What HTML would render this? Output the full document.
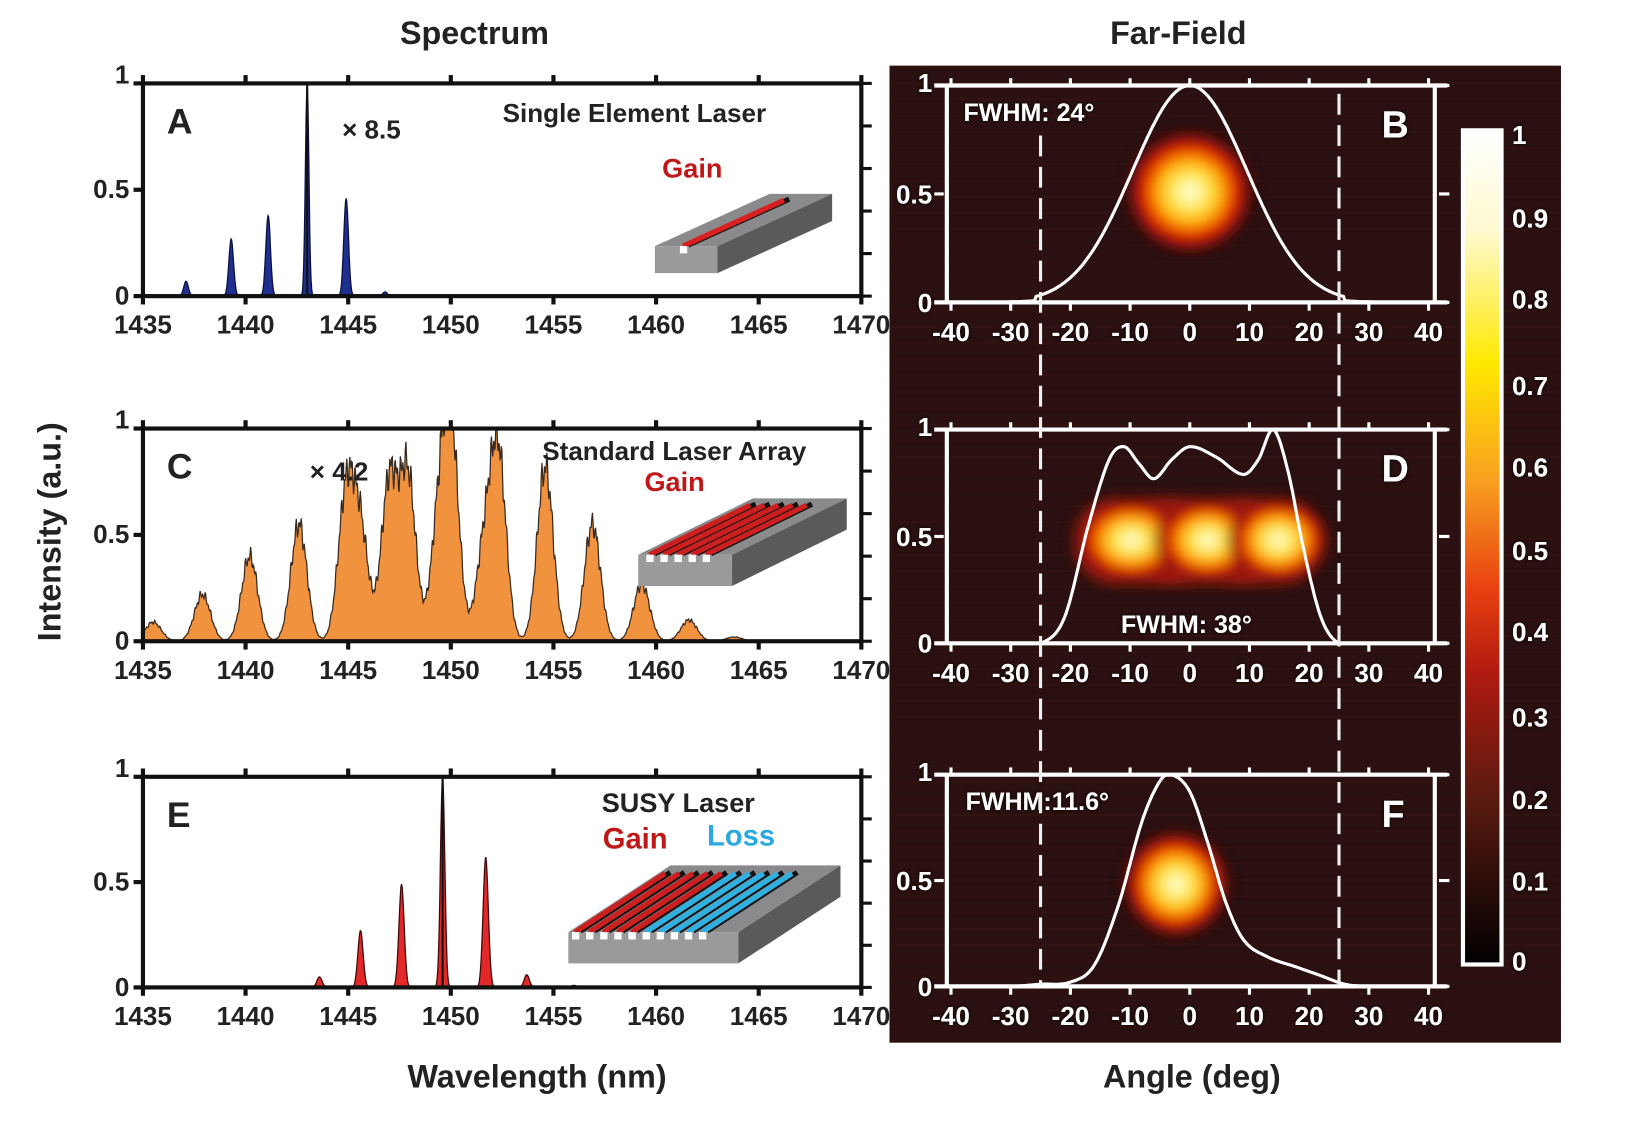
<!DOCTYPE html>
<html><head><meta charset="utf-8">
<style>
html,body{margin:0;padding:0;background:#fff;}
svg{display:block;}
text{font-family:"Liberation Sans",sans-serif;font-weight:bold;}
</style></head>
<body>
<svg id="s" width="1633" height="1124" viewBox="0 0 1566 1078" xmlns="http://www.w3.org/2000/svg">
<defs>
<radialGradient id="blob">
<stop offset="0" stop-color="#ffffff"/>
<stop offset="0.25" stop-color="#fff060"/>
<stop offset="0.5" stop-color="#ffb000"/>
<stop offset="0.7" stop-color="#e82000"/>
<stop offset="0.88" stop-color="#801010"/>
<stop offset="1" stop-color="#2a0f0f" stop-opacity="0"/>
</radialGradient>
<linearGradient id="cb" x1="0" y1="0" x2="0" y2="1">
<stop offset="0" stop-color="#ffffff"/>
<stop offset="0.12" stop-color="#fffad0"/>
<stop offset="0.28" stop-color="#ffe800"/>
<stop offset="0.42" stop-color="#f8a020"/>
<stop offset="0.55" stop-color="#e84010"/>
<stop offset="0.65" stop-color="#b01a10"/>
<stop offset="0.8" stop-color="#5a1a10"/>
<stop offset="1" stop-color="#000000"/>
</linearGradient>
<filter id="bl" x="-50%" y="-50%" width="200%" height="200%"><feGaussianBlur stdDeviation="6"/></filter>
<filter id="sh"><feDropShadow dx="0" dy="0" stdDeviation="1.5" flood-color="#000"/></filter>
</defs>
<g id="g"></g>
</svg>
<script>
var o='';
function t(x,y,s,sz,fill,anchor,extra){o+='<text x="'+x+'" y="'+y+'" font-size="'+sz+'" fill="'+(fill||'#111')+'" text-anchor="'+(anchor||'start')+'" '+(extra||'')+'>'+s+'</text>';}
function L(x1,y1,x2,y2,c,w,ex){o+='<line x1="'+x1+'" y1="'+y1+'" x2="'+x2+'" y2="'+y2+'" stroke="'+c+'" stroke-width="'+w+'" '+(ex||'')+'/>';}
t(455,42,'Spectrum',31,'#222','middle');
t(1130,42,'Far-Field',31,'#222','middle');
t(515,1043,'Wavelength (nm)',31,'#222','middle');
t(1143,1043,'Angle (deg)',31,'#222','middle');
t(0,0,'Intensity (a.u.)',31,'#222','middle','transform="translate(58,510) rotate(-90)"');
o+='<rect x="853" y="63" width="644" height="937" fill="#2a1010"/>';
for(var i=0;i<60;i++){o+='<rect x="853" y="'+(63+i*15.6)+'" width="644" height="2" fill="#351414" opacity="0.5"/>';}
var panels=[{top:80,bot:284,lbl:'A'},{top:411,bot:615,lbl:'C'},{top:745,bot:947,lbl:'E'}];
function X(w){return 137+(w-1435)*(826-137)/35;}
function spec(p,peaks,width,fill,stroke,noise){
 var d='M'+X(1435)+','+p.bot;var h=p.bot-p.top;
 for(var w=1435;w<=1470;w+=0.03){var v=0;for(var k=0;k<peaks.length;k++){var q=peaks[k];var z=(w-q[0])/(q[2]||width);v+=q[1]*Math.exp(-Math.abs(z)*Math.abs(z));}
  if(noise)v*=1+noise*Math.sin(w*37)*Math.sin(w*11.3);
  if(v>1)v=1;d+=' L'+X(w).toFixed(1)+','+(p.bot-v*h).toFixed(1);}
 d+=' L'+X(1470)+','+p.bot+' Z';
 o+='<path d="'+d+'" fill="'+fill+'" stroke="'+stroke+'" stroke-width="1.2"/>';
}
spec(panels[0],[[1437.1,0.07],[1439.3,0.27],[1441.1,0.38],[1443.0,1.0,0.12],[1444.9,0.46],[1446.8,0.02]],0.16,'#1e2f8f','#0a1040');
L(X(1443),80,X(1443),284,'#111',2);
var cp=[[1435.5,0.09],[1437.9,0.22],[1440.2,0.4],[1442.6,0.55],[1444.9,0.68],[1445.6,0.5],[1447.0,0.75],[1447.9,0.78],[1450.0,0.97],[1449.4,0.5],[1452.3,0.88],[1451.6,0.4],[1454.6,0.82],[1456.9,0.55],[1459.3,0.27],[1461.6,0.1],[1463.8,0.02]];
spec(panels[1],cp,0.55,'#f0923e','#3a2a20',0.12);
spec(panels[2],[[1443.6,0.05],[1445.6,0.27],[1447.6,0.49],[1449.6,1.0,0.15],[1451.7,0.62],[1453.7,0.06],[1456,0.01]],0.18,'#e22828','#400808');
L(X(1449.6),745,X(1449.6),947,'#111',2);
panels.forEach(function(p){
 o+='<rect x="137" y="'+p.top+'" width="689" height="'+(p.bot-p.top)+'" fill="none" stroke="#111" stroke-width="4"/>';
 for(var w=1435;w<=1470;w+=5){var x=X(w);L(x,p.top-8,x,p.top,'#111',4);L(x,p.bot,x,p.bot+8,'#111',4);t(x,p.bot+36,w,25,'#222','middle');}
 var ys=[[0,'0'],[0.5,'0.5'],[1,'1']];ys.forEach(function(a){var y=p.bot-a[0]*(p.bot-p.top);L(128,y,137,y,'#111',4);t(124,y+(a[0]==1?0:8),a[1],25,'#222','end');});
 for(var k=0;k<=5;k++){var y=p.bot-k*(p.bot-p.top)/5;L(826,y,836,y,'#111',3);}
 t(160,p.top+48,p.lbl,34,'#222','start');
});
t(482,117,'Single Element  Laser',25,'#222');
t(328,133,'× 8.5',25,'#222');
t(635,170,'Gain',26,'#c01818');
t(520,441,'Standard Laser Array',25,'#222');
t(618,471,'Gain',26,'#c01818');
t(297,461,'× 4.2',25,'#222');
t(577,779,'SUSY Laser',26,'#222');
t(578,814,'Gain',28,'#c01818');
t(678,811,'Loss',28,'#2aa8e0');
function slab(FL,FR,BR,BL,th,stripes){
 o+='<polygon points="'+FL+' '+FR+' '+[FR[0],FR[1]+th]+' '+[FL[0],FL[1]+th]+'" fill="#9a9a9c"/>';
 o+='<polygon points="'+FR+' '+BR+' '+[BR[0],BR[1]+th]+' '+[FR[0],FR[1]+th]+'" fill="#5a5a5c"/>';
 o+='<polygon points="'+FL+' '+FR+' '+BR+' '+BL+'" fill="#8a8a8c"/>';
 stripes.forEach(function(s){var f0=s[0],c=s[1];
  var ax=FL[0]+(FR[0]-FL[0])*f0,ay=FL[1]+(FR[1]-FL[1])*f0;
  var bx=BL[0]+(BR[0]-BL[0])*f0+(FL[0]-BL[0])*0.12,by=BL[1]+(BR[1]-BL[1])*f0+(FL[1]-BL[1])*0.12;
  o+='<line x1="'+(ax+5)+'" y1="'+(ay-1)+'" x2="'+(bx+5)+'" y2="'+(by-1)+'" stroke="#111" stroke-width="5"/>';
  o+='<line x1="'+ax+'" y1="'+ay+'" x2="'+bx+'" y2="'+by+'" stroke="'+c+'" stroke-width="5"/>';
  o+='<rect x="'+(ax-3)+'" y="'+(ay)+'" width="7" height="7" fill="#fff"/>';
 });
}
slab([628,236],[688,236],[798,186],[738,186],26,[[0.45,'#d82020']]);
var cs=[];for(var i=0;i<5;i++)cs.push([0.12+i*0.15,'#cc2020']);
slab([612,532],[702,532],[812,478],[722,478],30,cs);
var es=[];for(var i=0;i<10;i++)es.push([0.04+i*0.083,i<5?'#cc2020':'#30b0e0']);
slab([545,894],[708,894],[806,830],[643,830],30,es);
function AX(a){return 1141+a*57.25/10;}
var fp=[{top:82,bot:290,lbl:'B'},{top:412,bot:617,lbl:'D'},{top:743,bot:946,lbl:'F'}];
o+='<g filter="url(#bl)">';
o+='<ellipse cx="1141" cy="184" rx="62" ry="60" fill="url(#blob)"/>';
o+='<rect x="1030" y="478" width="240" height="82" rx="40" fill="#c82010" opacity="0.9"/>';
o+='<ellipse cx="1085" cy="518" rx="55" ry="42" fill="url(#blob)"/>';
o+='<ellipse cx="1158" cy="518" rx="52" ry="42" fill="url(#blob)"/>';
o+='<ellipse cx="1226" cy="518" rx="50" ry="42" fill="url(#blob)"/>';
o+='<ellipse cx="1128" cy="848" rx="52" ry="52" fill="url(#blob)"/>';
o+='</g>';
function curve(p,f){var d='';var h=p.bot-p.top;for(var a=-40;a<=40;a+=0.25){var v=f(a);if(v<0)v=0;if(v>1)v=1;d+=(d?' L':'M')+AX(a).toFixed(1)+','+(p.bot-v*h).toFixed(1);}o+='<path d="'+d+'" fill="none" stroke="#fff" stroke-width="3"/>';}
fp.forEach(function(p){
 L(896,p.top,1388,p.top,'#fff',4);L(896,p.bot,1388,p.bot,'#fff',4);
 L(AX(-40)-4,p.top,AX(-40)-4,p.bot,'#fff',4);L(AX(40)+6,p.top,AX(40)+6,p.bot,'#fff',4);
 for(var a=-40;a<=40;a+=10){var x=AX(a);L(x,p.top-7,x,p.top,'#fff',3);L(x,p.bot,x,p.bot+8,'#fff',3);t(x,p.bot+37,a,25,'#fff','middle','filter="url(#sh)"');}
 var ys=[[0,'0'],[0.5,'0.5'],[1,'1']];ys.forEach(function(q){var y=p.bot-q[0]*(p.bot-p.top);L(896,y,905,y,'#fff',3);L(1380,y,1390,y,'#fff',3);t(894,y+(q[0]==1?6:9),q[1],25,'#fff','end','filter="url(#sh)"');});
 t(1325,p.top+50,p.lbl,36,'#fff','start','filter="url(#sh)"');
});
// Catmull-Rom interpolation
function cr(pts,a){var n=pts.length;for(var i=0;i<n-1;i++){if(a>=pts[i][0]&&a<=pts[i+1][0]){
 var p0=pts[Math.max(0,i-1)],p1=pts[i],p2=pts[i+1],p3=pts[Math.min(n-1,i+2)];
 var u=(a-p1[0])/(p2[0]-p1[0]);
 var m1=(p2[1]-p0[1])/(p2[0]-p0[0])*(p2[0]-p1[0]);
 var m2=(p3[1]-p1[1])/(p3[0]-p1[0])*(p2[0]-p1[0]);
 var u2=u*u,u3=u2*u;
 return (2*u3-3*u2+1)*p1[1]+(u3-2*u2+u)*m1+(-2*u3+3*u2)*p2[1]+(u3-u2)*m2;}}return 0;}
curve(fp[0],function(a){return Math.exp(-a*a/(2*9.6*9.6))*(Math.abs(a)<26?1:0.3);});
var dpts=[[-40,0],[-30,0],[-25,0],[-21,0.12],[-17,0.55],[-13.5,0.86],[-11,0.92],[-8.5,0.84],[-6,0.77],[-3,0.86],[0,0.92],[4.5,0.87],[9,0.79],[11.5,0.86],[14,1.0],[16.5,0.8],[19,0.45],[22,0.12],[25,0],[30,0],[40,0]];
curve(fp[1],function(a){return cr(dpts,a);});
var fpts=[[-40,0],[-30,0],[-25,0.01],[-20,0.02],[-16,0.1],[-12,0.38],[-8,0.78],[-5,0.97],[-3,1],[0,0.92],[3,0.68],[6,0.4],[9,0.22],[13,0.14],[18,0.09],[22,0.05],[26,0.01],[30,0],[40,0]];
curve(fp[2],function(a){return cr(fpts,a);});
t(924,116,'FWHM: 24°',24,'#fff','start','filter="url(#sh)"');
t(1075,607,'FWHM: 38°',24,'#fff','start','filter="url(#sh)"');
t(926,777,'FWHM:11.6°',24,'#fff','start','filter="url(#sh)"');
L(AX(-25),130,AX(-25),945,'#eee',3,'stroke-dasharray="20,10"');
L(AX(25),90,AX(25),945,'#eee',3,'stroke-dasharray="20,10"');
o+='<rect x="1403" y="125" width="37" height="800" fill="url(#cb)" stroke="#fff" stroke-width="4"/>';
var cl=['1','0.9','0.8','0.7','0.6','0.5','0.4','0.3','0.2','0.1','0'];
var cy=[138,218,296,379,457,537,615,697,776,854,931];
for(var i=0;i<11;i++)t(1450,cy[i],cl[i],25,'#fff','start','filter="url(#sh)"');
document.getElementById('g').innerHTML=o;
</script>
</body></html>
